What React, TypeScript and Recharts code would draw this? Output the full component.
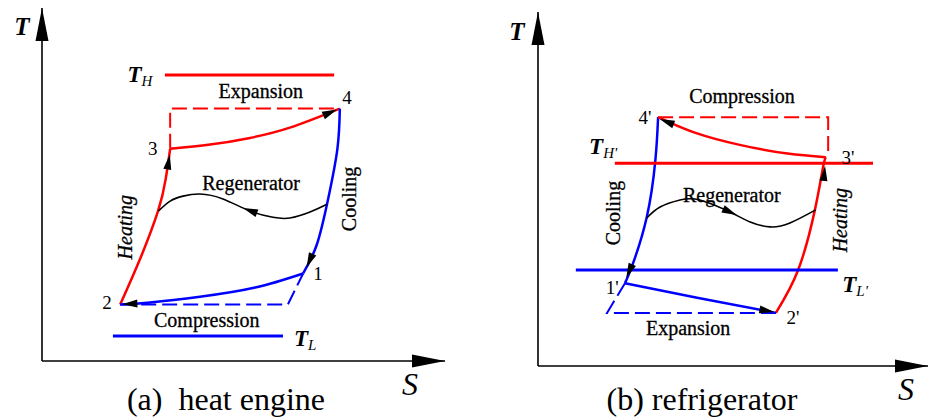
import {
  ComposedChart,
  Line,
  Scatter,
  XAxis,
  YAxis
} from 'recharts';

const RED = '#ff0000';
const BLUE = '#0000ff';
const FONT = '"Liberation Serif", "Times New Roman", serif';

type Pt = { S: number, T: number };
type Arrow = Pt & { dS: number, dT: number };
type Lbl = Pt & { text: string, sub?: string, kind: string };

// ---- (a) heat engine, S and T in arbitrary units (0..100) ----
const heHeating: Pt[] = [{ S: 19.4, T: 16 }, { S: 24.3, T: 28.8 }, { S: 28.8, T: 42.5 }, { S: 30.7, T: 51.6 }, { S: 31.8, T: 60.1 }];
const heExpansion: Pt[] = [{ S: 31.8, T: 60.1 }, { S: 41.7, T: 61.3 }, { S: 51.6, T: 63.2 }, { S: 61.5, T: 66.1 }, { S: 73.9, T: 71.5 }];
const heCooling: Pt[] = [{ S: 73.9, T: 71.5 }, { S: 73.3, T: 60.1 }, { S: 71.0, T: 45.9 }, { S: 68.2, T: 33.0 }, { S: 64.8, T: 24.8 }];
const heCompression: Pt[] = [{ S: 64.8, T: 24.8 }, { S: 52.9, T: 20.8 }, { S: 39.2, T: 18.2 }, { S: 26.8, T: 16.6 }, { S: 19.4, T: 16 }];
const heRegenerator: Pt[] = [
  { S: 70.7, T: 44.4 }, { S: 66.5, T: 42.2 }, { S: 61.5, T: 40.5 }, { S: 57.3, T: 40.7 }, { S: 51.6, T: 42.5 },
  { S: 44.9, T: 45.9 }, { S: 39.2, T: 47.3 }, { S: 35.0, T: 46.7 }, { S: 31.8, T: 45.3 }, { S: 28.9, T: 42.5 }
];
const heIsoHot: Pt[] = [{ S: 31.8, T: 60.1 }, { S: 31.8, T: 71.5 }, { S: 73.9, T: 71.5 }];
const heIsoCold: Pt[] = [{ S: 19.4, T: 16 }, { S: 61.0, T: 16 }, { S: 64.8, T: 24.8 }];
const heTH: Pt[] = [{ S: 30.5, T: 81 }, { S: 72.5, T: 81 }];
const heTL: Pt[] = [{ S: 17.6, T: 7.1 }, { S: 59.8, T: 7.1 }];
const heArrows: Arrow[] = [
  { S: 71.5, T: 70.4, dS: 4, dT: 2 },
  { S: 31.4, T: 56.4, dS: 0.15, dT: 1 },
  { S: 66.4, T: 28.4, dS: -1, dT: -2.6 },
  { S: 21.8, T: 16.2, dS: -1, dT: -0.05 },
  { S: 51.6, T: 42.6, dS: -1, dT: 0.43 }
];
const heLabels: Lbl[] = [
  { S: 54.3, T: 76.4, text: 'Expansion', kind: 'process' },
  { S: 51.9, T: 50.4, text: 'Regenerator', kind: 'process' },
  { S: 40.9, T: 11.7, text: 'Compression', kind: 'process' },
  { S: 20.6, T: 37.9, text: 'Heating', kind: 'verticalItalic' },
  { S: 76.2, T: 45.9, text: 'Cooling', kind: 'vertical' },
  { S: 75.7, T: 74.6, text: '4', kind: 'state' },
  { S: 27.5, T: 60.1, text: '3', kind: 'state' },
  { S: 16.1, T: 16.5, text: '2', kind: 'state' },
  { S: 68.5, T: 24.8, text: '1', kind: 'state' },
  { S: 24.3, T: 80.9, text: 'T', sub: 'H', kind: 'temp' },
  { S: 65.3, T: 6.3, text: 'T', sub: 'L', kind: 'temp' }
];

// ---- (b) refrigerator ----
const rfCooling: Pt[] = [{ S: 30.8, T: 70.3 }, { S: 30.1, T: 58.2 }, { S: 27.9, T: 42.1 }, { S: 24.2, T: 28.5 }, { S: 22.3, T: 23.4 }];
const rfHeating: Pt[] = [{ S: 61.0, T: 15.0 }, { S: 66.7, T: 27.1 }, { S: 71.0, T: 44.1 }, { S: 73.1, T: 56.2 }, { S: 73.8, T: 59.0 }];
const rfCompression: Pt[] = [{ S: 73.8, T: 59.0 }, { S: 64.0, T: 60.0 }, { S: 52.0, T: 62.4 }, { S: 40.0, T: 66.0 }, { S: 30.8, T: 70.3 }];
const rfExpansion: Pt[] = [{ S: 22.3, T: 23.4 }, { S: 40.8, T: 19.3 }, { S: 61.0, T: 15.0 }];
const rfRegenerator: Pt[] = [
  { S: 27.9, T: 41.8 }, { S: 31.3, T: 44.9 }, { S: 36.4, T: 46.9 }, { S: 41.5, T: 46.9 }, { S: 49.2, T: 43.5 },
  { S: 54.4, T: 40.7 }, { S: 59.5, T: 39.3 }, { S: 64.6, T: 40.4 }, { S: 71.2, T: 44.1 }
];
const rfIsoHot: Pt[] = [{ S: 30.8, T: 70.3 }, { S: 74.4, T: 70.3 }, { S: 74.4, T: 59.3 }];
const rfIsoCold: Pt[] = [{ S: 61.0, T: 15.0 }, { S: 17.7, T: 15.0 }, { S: 22.3, T: 23.4 }];
const rfTH: Pt[] = [{ S: 19.7, T: 57.3 }, { S: 85.9, T: 57.3 }];
const rfTL: Pt[] = [{ S: 9.7, T: 27.1 }, { S: 76.9, T: 27.1 }];
const rfArrows: Arrow[] = [
  { S: 33.0, T: 69.0, dS: -3.8, dT: 1.6 },
  { S: 73.4, T: 54.4, dS: 0.1, dT: 1 },
  { S: 23.4, T: 26.8, dS: -0.4, dT: -1 },
  { S: 58.7, T: 15.6, dS: 1, dT: -0.2 },
  { S: 49.2, T: 43.5, dS: 1, dT: -0.5 }
];
const rfLabels: Lbl[] = [
  { S: 52.3, T: 76.3, text: 'Compression', kind: 'process' },
  { S: 49.7, T: 48.3, text: 'Regenerator', kind: 'process' },
  { S: 38.5, T: 10.7, text: 'Expansion', kind: 'process' },
  { S: 19.2, T: 43.2, text: 'Cooling', kind: 'vertical' },
  { S: 77.4, T: 41.2, text: 'Heating', kind: 'verticalItalic' },
  { S: 27.4, T: 70.3, text: "4'", kind: 'state' },
  { S: 79.5, T: 58.8, text: "3'", kind: 'state' },
  { S: 19.0, T: 22.3, text: "1'", kind: 'state' },
  { S: 65.4, T: 13.6, text: "2'", kind: 'state' },
  { S: 16.7, T: 61.9, text: 'T', sub: "H'", kind: 'temp' },
  { S: 81.3, T: 22.9, text: 'T', sub: "L'", kind: 'temp' }
];

// axes of both panels
const sAxis: Pt[] = [{ S: 0, T: 0 }, { S: 100, T: 0 }];
const tAxis: Pt[] = [{ S: 0, T: 0 }, { S: 0, T: 100 }];
const axisTips: Arrow[] = [{ S: 0, T: 100, dS: 0, dT: 1 }, { S: 100, T: 0, dS: 1, dT: 0 }];

type Series = { data: Pt[], color: string, width: number, dashed?: boolean, curved?: boolean };

const axes: Series[] = [
  { data: sAxis, color: '#000', width: 1.6 },
  { data: tAxis, color: '#000', width: 1.6 }
];

const panelA: Series[] = [
  ...axes,
  { data: heIsoHot, color: RED, width: 2, dashed: true },
  { data: heIsoCold, color: BLUE, width: 2, dashed: true },
  { data: heTH, color: RED, width: 3 },
  { data: heTL, color: BLUE, width: 3 },
  { data: heHeating, color: RED, width: 2.5, curved: true },
  { data: heExpansion, color: RED, width: 2.5, curved: true },
  { data: heCooling, color: BLUE, width: 2.5, curved: true },
  { data: heCompression, color: BLUE, width: 2.5, curved: true },
  { data: heRegenerator, color: '#000', width: 1.6, curved: true }
];

const panelB: Series[] = [
  ...axes,
  { data: rfIsoHot, color: RED, width: 2, dashed: true },
  { data: rfIsoCold, color: BLUE, width: 2, dashed: true },
  { data: rfCooling, color: BLUE, width: 2.5, curved: true },
  { data: rfHeating, color: RED, width: 2.5, curved: true },
  { data: rfCompression, color: RED, width: 2.5, curved: true },
  { data: rfExpansion, color: BLUE, width: 2.5, curved: true },
  { data: rfRegenerator, color: '#000', width: 1.6, curved: true },
  { data: rfTH, color: RED, width: 3 },
  { data: rfTL, color: BLUE, width: 3 }
];

function arrowShape(pxS: number, pxT: number, len: number, wid: number, atTip: boolean) {
  return (p: any) => {
    const { cx, cy, payload } = p;
    const a = Math.atan2(-payload.dT * pxT, payload.dS * pxS);
    const ux = Math.cos(a), uy = Math.sin(a);
    const tx = atTip ? cx : cx + ux * len / 2;
    const ty = atTip ? cy : cy + uy * len / 2;
    const bx = tx - ux * len, by = ty - uy * len;
    const pts = [
      [tx, ty],
      [bx - uy * wid / 2, by + ux * wid / 2],
      [bx + uy * wid / 2, by - ux * wid / 2]
    ].map(q => q.join(',')).join(' ');
    return <polygon points={pts} fill="#000" />;
  };
}

function labelShape(p: any) {
  const { cx, cy, payload } = p;
  const base = { fontFamily: FONT, fill: '#000' };
  if (payload.kind === 'temp') {
    return (
      <text x={cx} y={cy + 7} textAnchor="middle" {...base} fontStyle="italic" fontWeight="bold" fontSize={23}>
        {payload.text}
        <tspan fontSize={15} fontWeight="normal" dy={4}>{payload.sub}</tspan>
      </text>
    );
  }
  if (payload.kind === 'state') {
    return <text x={cx} y={cy} textAnchor="middle" dominantBaseline="central" {...base} fontSize={19}>{payload.text}</text>;
  }
  const vertical = payload.kind.startsWith('vertical');
  return (
    <text
      x={cx}
      y={cy}
      textAnchor="middle"
      dominantBaseline="central"
      {...base}
      fontSize={20}
      fontStyle={payload.kind === 'verticalItalic' ? 'italic' : 'normal'}
      stroke="#000"
      strokeWidth={0.3}
      transform={vertical ? `rotate(-90 ${cx} ${cy})` : undefined}
    >
      {payload.text}
    </text>
  );
}

function Panel({ series, arrows, labels, left, width, margin }: { series: Series[], arrows: Arrow[], labels: Lbl[], left: number, width: number, margin: any }) {
  const height = 417;
  const pxS = (width - margin.left - margin.right) / 100;
  const pxT = (height - margin.top - margin.bottom) / 100;
  return (
    <div style={{ position: 'absolute', left, top: 0 }}>
      <ComposedChart width={width} height={height} margin={margin}>
        <XAxis type="number" dataKey="S" domain={[0, 100]} hide />
        <YAxis type="number" dataKey="T" domain={[0, 100]} hide />
        {series.map((s, i) => (
          <Line
            key={i}
            data={s.data}
            dataKey="T"
            type={s.curved ? 'natural' : 'linear'}
            stroke={s.color}
            strokeWidth={s.width}
            strokeDasharray={s.dashed ? '15 6' : undefined}
            dot={false}
            activeDot={false}
            isAnimationActive={false}
          />
        ))}
        <Scatter data={arrows} shape={arrowShape(pxS, pxT, 15, 8, false)} isAnimationActive={false} />
        <Scatter data={axisTips} shape={arrowShape(pxS, pxT, 33, 13, true)} isAnimationActive={false} />
        <Scatter data={labels} shape={labelShape} isAnimationActive={false} />
      </ComposedChart>
    </div>
  );
}

export default function App() {
  return (
    <div style={{ position: 'absolute', left: 0, top: 0, width: 929, height: 417, background: '#fff', overflow: 'hidden' }}>
      <Panel series={panelA} arrows={heArrows} labels={heLabels} left={0} width={464} margin={{ top: 8, right: 19, bottom: 56, left: 42 }} />
      <Panel series={panelB} arrows={rfArrows} labels={rfLabels} left={465} width={464} margin={{ top: 12, right: 1, bottom: 51, left: 73 }} />
      <svg width={929} height={417} style={{ position: 'absolute', left: 0, top: 0, pointerEvents: 'none' }}>
        <g fontFamily={FONT} fill="#000">
          <text x={22} y={35} textAnchor="middle" fontSize={25} fontStyle="italic" fontWeight="bold">T</text>
          <text x={410} y={395} textAnchor="middle" fontSize={32} fontStyle="italic">S</text>
          <text x={517} y={40} textAnchor="middle" fontSize={25} fontStyle="italic" fontWeight="bold">T</text>
          <text x={906} y={400} textAnchor="middle" fontSize={32} fontStyle="italic">S</text>
          <text x={226} y={410} textAnchor="middle" fontSize={32} style={{ whiteSpace: 'pre' }}>{'(a)  heat engine'}</text>
          <text x={702} y={410} textAnchor="middle" fontSize={32}>(b) refrigerator</text>
        </g>
      </svg>
    </div>
  );
}
